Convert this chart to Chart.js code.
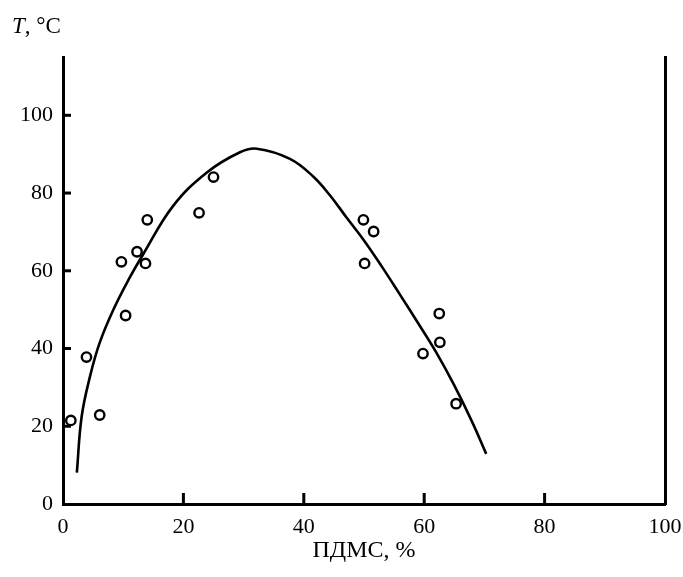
<!DOCTYPE html>
<html>
<head>
<meta charset="utf-8">
<script src="https://cdn.jsdelivr.net/npm/chart.js@4.4.0/dist/chart.umd.min.js"></script>
<style>
  body { margin: 0; background: #fff; }
  #wrap { width: 683px; height: 577px; }
</style>
</head>
<body>
<div id="wrap"><canvas id="chart" width="683" height="577"></canvas></div>
<script>
// measured points
const pointX = [1.3, 3.9, 6.1, 9.7, 10.4, 12.3, 13.7, 14.0, 22.6, 25.0, 49.9, 50.1, 51.6, 59.8, 62.5, 62.6, 65.3];
const pointY = [21.5, 37.8, 22.9, 62.3, 48.5, 64.9, 61.9, 73.1, 74.9, 84.1, 73.1, 61.9, 70.1, 38.7, 49.0, 41.6, 25.8];

// fitted curve
const curveX = [2.3, 3.1, 4.5, 6.1, 8.4, 11.1, 13.3, 18.3, 23.9, 29.4, 32.2, 37.7, 41.6, 44.4, 47.1, 50, 53, 56, 59, 62, 65, 68, 70.3];
const curveY = [8.1, 22.5, 32.9, 41.5, 50.1, 58.3, 64.2, 76.7, 85.3, 90.5, 91.4, 88.8, 84.2, 79.3, 73.7, 67.8, 61.0, 53.8, 46.5, 39.0, 30.5, 21.0, 12.9];

const xTicks = [0, 20, 40, 60, 80, 100];
const yTicks = [0, 20, 40, 60, 80, 100];

const serif = "'Liberation Serif', 'DejaVu Serif', serif";

const inwardTicks = {
  id: 'inwardTicks',
  beforeDatasetsDraw(chart) {
    const ctx = chart.ctx;
    const x = chart.scales.x, y = chart.scales.y;
    const area = chart.chartArea;
    ctx.save();
    ctx.strokeStyle = '#000';
    ctx.lineWidth = 3;
    xTicks.slice(1, -1).forEach(v => {
      const px = x.getPixelForValue(v);
      ctx.beginPath();
      ctx.moveTo(px, area.bottom);
      ctx.lineTo(px, area.bottom - 11);
      ctx.stroke();
    });
    yTicks.slice(1).forEach(v => {
      const py = y.getPixelForValue(v);
      ctx.beginPath();
      ctx.moveTo(area.left, py);
      ctx.lineTo(area.left + 8, py);
      ctx.stroke();
    });
    ctx.restore();
  },
  afterDraw(chart) {
    const ctx = chart.ctx;
    ctx.save();
    ctx.fillStyle = '#000';
    ctx.textBaseline = 'alphabetic';
    ctx.font = 'italic 23px ' + serif;
    ctx.fillText('T', 12, 33);
    const w = ctx.measureText('T').width;
    ctx.font = '23px ' + serif;
    ctx.fillText(', \u00B0C', 12 + w, 33);
    ctx.restore();
  }
};

new Chart(document.getElementById('chart'), {
  type: 'scatter',
  data: {
    datasets: [
      {
        type: 'line',
        data: curveX.map((v, i) => ({x: v, y: curveY[i]})),
        borderColor: '#000',
        borderWidth: 2.6,
        pointRadius: 0,
        fill: false,
        tension: 0.4
      },
      {
        data: pointX.map((v, i) => ({x: v, y: pointY[i]})),
        pointRadius: 4.7,
        pointBorderWidth: 2.4,
        borderColor: '#000',
        backgroundColor: 'rgba(255,255,255,0)',
        showLine: false
      }
    ]
  },
  options: {
    responsive: false,
    animation: false,
    layout: { padding: { top: 57, left: 0, right: 0, bottom: 0 }, autoPadding: false },
    plugins: { legend: { display: false }, tooltip: { enabled: false } },
    scales: {
      x: {
        type: 'linear',
        min: 0, max: 100,
        afterBuildTicks: s => { s.ticks = xTicks.map(v => ({value: v})); },
        afterFit: s => { s.height = 73; s.paddingLeft = 0; s.paddingRight = 0; },
        grid: { display: false, drawTicks: false },
        border: { display: true, color: '#000', width: 3 },
        ticks: { color: '#000', padding: 10, maxRotation: 0, font: { family: serif, size: 22 } },
        title: { display: true, text: 'ПДМС, %', color: '#000', padding: { top: 0, bottom: 12 }, font: { family: serif, size: 24 } }
      },
      y: {
        min: 0, max: 115,
        afterBuildTicks: s => { s.ticks = yTicks.map(v => ({value: v})); },
        afterFit: s => { s.width = 63; s.paddingTop = 0; s.paddingBottom = 0; },
        grid: { display: false, drawTicks: false },
        border: { display: true, color: '#000', width: 3 },
        ticks: { color: '#000', padding: 10, font: { family: serif, size: 22 } }
      },
      y2: {
        position: 'right',
        min: 0, max: 115,
        afterFit: s => { s.width = 18; s.paddingTop = 0; s.paddingBottom = 0; },
        grid: { display: false, drawTicks: false },
        border: { display: true, color: '#000', width: 3 },
        ticks: { display: false }
      }
    }
  },
  plugins: [inwardTicks]
});
</script>
</body>
</html>
